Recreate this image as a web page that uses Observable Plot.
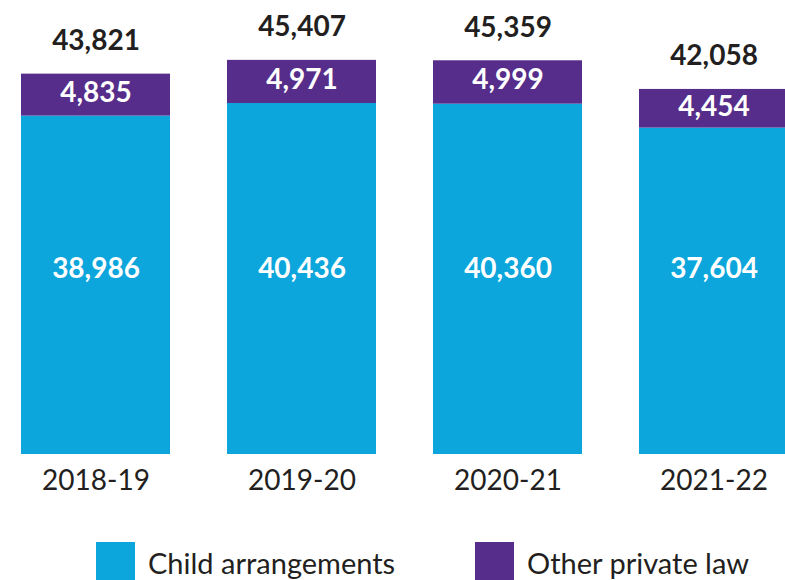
<!DOCTYPE html>
<html>
<head>
<meta charset="utf-8">
<script src="https://cdn.jsdelivr.net/npm/d3@7"></script>
<script src="https://cdn.jsdelivr.net/npm/@observablehq/plot@0.6"></script>
<style>
  html, body { margin: 0; padding: 0; background: #fff; overflow: hidden; }
  body { width: 785px; height: 580px; font-family: Lato, "Open Sans", sans-serif; color: #231f20; }
  #legend { position: relative; height: 50px; margin-top: 12px; }
  .item { position: absolute; top: 0; display: flex; align-items: center; }
  .sw { width: 39px; height: 39px; margin-right: 13px; }
  .lab { font-size: 29px; line-height: 39px; position: relative; top: 1px; }
</style>
</head>
<body>
<div id="chart"></div>
<div id="legend"></div>
<script>
const years = ["2018-19", "2019-20", "2020-21", "2021-22"];
const childArrangements = [38986, 40436, 40360, 37604];
const otherPrivateLaw = [4835, 4971, 4999, 4454];
const totals = [43821, 45407, 45359, 42058];
const seriesNames = ["Child arrangements", "Other private law"];
const seriesColors = ["#0ca6dc", "#562d8a"];
const childLabelLevel = 21400;

const rows = [];
years.forEach((yr, i) => {
  rows.push({year: yr, series: seriesNames[0], value: childArrangements[i]});
  rows.push({year: yr, series: seriesNames[1], value: otherPrivateLaw[i]});
});
const fmt = d3.format(",");
const otherRows = years.map((yr, i) => ({year: yr, value: otherPrivateLaw[i], mid: childArrangements[i] + otherPrivateLaw[i] / 2}));
const childRows = years.map((yr, i) => ({year: yr, value: childArrangements[i], at: childLabelLevel}));
const totalRows = years.map((yr, i) => ({year: yr, value: totals[i]}));

const chart = Plot.plot({
  width: 785,
  height: 530,
  marginTop: 20,
  marginBottom: 76,
  style: {fontFamily: "Lato, 'Open Sans', sans-serif", color: "#231f20", overflow: "visible"},
  x: {domain: years, range: [21, 788], paddingInner: 0.278, paddingOuter: 0, label: null},
  y: {domain: [0, 50000], axis: null},
  color: {domain: seriesNames, range: seriesColors},
  marks: [
    Plot.barY(rows, {x: "year", y: "value", fill: "series"}),
    Plot.text(otherRows, {x: "year", y: "mid", text: d => fmt(d.value), fill: "white", fontSize: 28, fontWeight: "bold", dy: -2}),
    Plot.text(childRows, {x: "year", y: "at", text: d => fmt(d.value), fill: "white", fontSize: 28, fontWeight: "bold"}),
    Plot.text(totalRows, {x: "year", y: "value", text: d => fmt(d.value), fill: "#231f20", fontSize: 28, fontWeight: "bold", dy: -33}),
    Plot.axisX({tickSize: 0, tickPadding: 16, fontSize: 28, label: null})
  ]
});
document.getElementById("chart").appendChild(chart);

const legend = document.getElementById("legend");
const lefts = [96, 475];
seriesNames.forEach((name, i) => {
  const item = document.createElement("div");
  item.className = "item";
  item.style.left = lefts[i] + "px";
  const sw = document.createElement("div");
  sw.className = "sw";
  sw.style.background = seriesColors[i];
  const lab = document.createElement("span");
  lab.className = "lab";
  lab.textContent = name;
  item.appendChild(sw);
  item.appendChild(lab);
  legend.appendChild(item);
});
</script>
</body>
</html>
